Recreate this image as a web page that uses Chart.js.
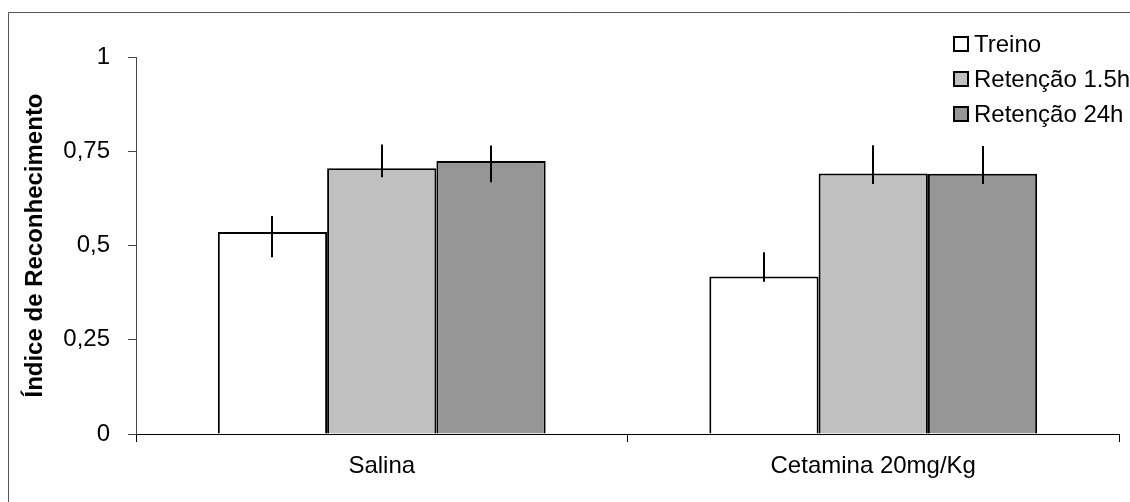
<!DOCTYPE html>
<html>
<head>
<meta charset="utf-8">
<script src="https://cdn.jsdelivr.net/npm/chart.js@4"></script>
<style>
  body { margin: 0; background: #fff; }
  #wrap { width: 1130px; height: 502px; position: relative; }
</style>
</head>
<body>
<div id="wrap"><canvas id="barChart" width="1130" height="502"></canvas></div>
<script>
const categories = ['Salina', 'Cetamina 20mg/Kg'];
const seriesNames = ['Treino', 'Retenção 1.5h', 'Retenção 24h'];
const treino = [0.536, 0.418];
const retencao15 = [0.705, 0.691];
const retencao24 = [0.724, 0.690];
// error bar ends (low / high)
const treinoLow = [0.469, 0.404];
const treinoHigh = [0.578, 0.482];
const ret15Low = [0.681, 0.663];
const ret15High = [0.768, 0.766];
const ret24Low = [0.668, 0.663];
const ret24High = [0.765, 0.764];
const yTickLabels = ['0', '0,25', '0,5', '0,75', '1'];

const fontFam = '"Liberation Sans", Arial, sans-serif';

const errorBars = {
    id: 'errorBars',
    afterDatasetsDraw(chart) {
        const ctx = chart.ctx;
        const y = chart.scales.y;
        ctx.save();
        ctx.strokeStyle = '#000';
        ctx.lineWidth = 2;
        chart.data.datasets.forEach((ds, i) => {
            const meta = chart.getDatasetMeta(i);
            meta.data.forEach((bar, j) => {
                const x = Math.round(bar.x);
                ctx.beginPath();
                ctx.moveTo(x, y.getPixelForValue(ds.errLow[j]));
                ctx.lineTo(x, y.getPixelForValue(ds.errHigh[j]));
                ctx.stroke();
            });
        });
        ctx.restore();
    }
};

const frameAndLegend = {
    id: 'frameAndLegend',
    beforeDraw(chart) {
        const ctx = chart.ctx;
        ctx.save();
        ctx.strokeStyle = '#555';
        ctx.lineWidth = 1;
        ctx.beginPath();
        ctx.moveTo(8.5, 510);
        ctx.lineTo(8.5, 12.5);
        ctx.lineTo(1140, 12.5);
        ctx.stroke();
        ctx.restore();
    },
    afterDraw(chart) {
        const ctx = chart.ctx;
        ctx.save();
        ctx.font = '24px ' + fontFam;
        ctx.textBaseline = 'middle';
        chart.data.datasets.forEach((ds, i) => {
            const cy = 44 + i * 35;
            ctx.fillStyle = ds.backgroundColor;
            ctx.fillRect(954, cy - 7, 14, 14);
            ctx.strokeStyle = '#000';
            ctx.lineWidth = 2;
            ctx.strokeRect(954, cy - 7, 14, 14);
            ctx.fillStyle = '#000';
            ctx.fillText(ds.label, 974, cy + 1);
        });
        ctx.restore();
    }
};

const bar = document.getElementById('barChart');

new Chart(bar, {
    type: 'bar',
    data: {
        labels: categories,
        datasets: [
            { label: seriesNames[0], data: treino, errLow: treinoLow, errHigh: treinoHigh, backgroundColor: '#ffffff' },
            { label: seriesNames[1], data: retencao15, errLow: ret15Low, errHigh: ret15High, backgroundColor: '#c0c0c0' },
            { label: seriesNames[2], data: retencao24, errLow: ret24Low, errHigh: ret24High, backgroundColor: '#969696' }
        ]
    },
    options: {
        responsive: false,
        animation: false,
        layout: { padding: { top: 57, right: 11, left: 0, bottom: 0 } },
        datasets: {
            bar: {
                borderColor: '#000',
                borderWidth: 2,
                categoryPercentage: 0.667,
                barPercentage: 1
            }
        },
        plugins: {
            legend: { display: false },
            tooltip: { enabled: false }
        },
        scales: {
            x: {
                afterFit(scale) { scale.height = 68; },
                grid: { offset: true, drawOnChartArea: false, tickLength: 8, color: '#000' },
                border: { color: '#000', width: 1 },
                ticks: { color: '#000', font: { family: fontFam, size: 24 }, padding: 10 }
            },
            y: {
                min: 0,
                max: 1,
                afterFit(scale) { scale.width = 136; },
                grid: { drawOnChartArea: false, tickLength: 8, color: '#444' },
                border: { color: '#444', width: 1 },
                ticks: {
                    stepSize: 0.25,
                    color: '#000',
                    padding: 18,
                    font: { family: fontFam, size: 24 },
                    callback: (v, i) => yTickLabels[i]
                },
                title: {
                    display: true,
                    text: 'Índice de Reconhecimento',
                    color: '#000',
                    font: { family: fontFam, size: 24, weight: 'bold' },
                    padding: { top: 21, bottom: 0 }
                }
            }
        }
    },
    plugins: [errorBars, frameAndLegend]
});
</script>
</body>
</html>
